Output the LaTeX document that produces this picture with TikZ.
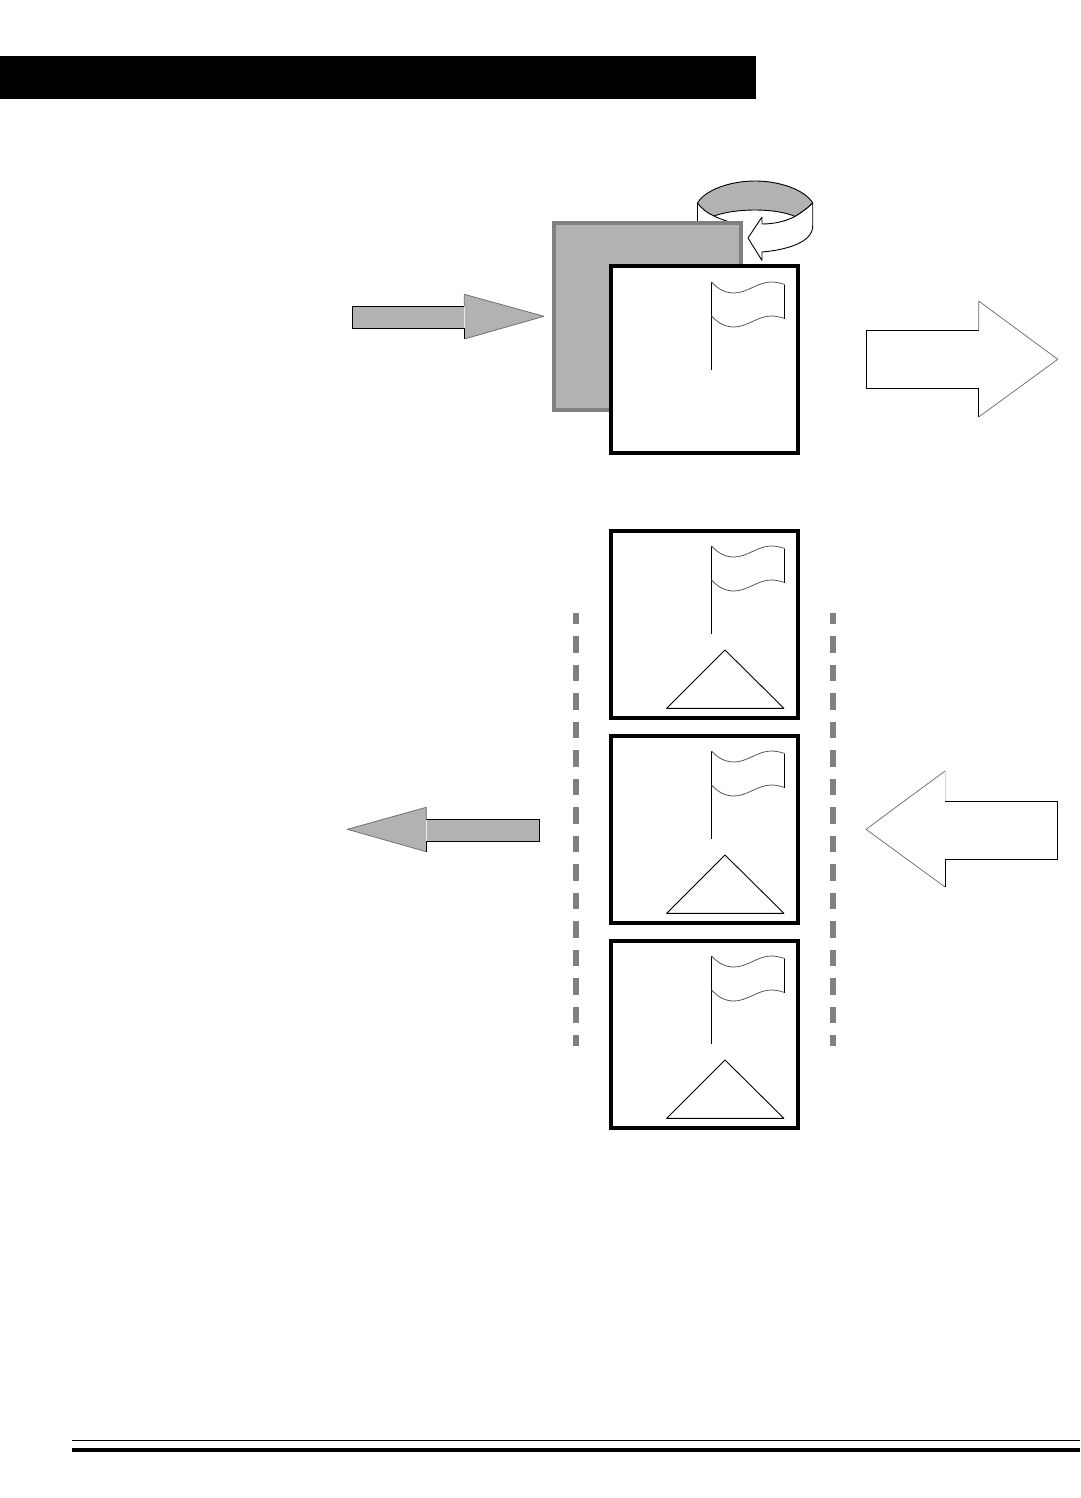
\documentclass[tikz,border=0pt]{standalone}
\definecolor{fillgray}{HTML}{B2B2B2}
\definecolor{edgegray}{HTML}{808080}
\tikzset{
  frame/.style={draw=black,line width=4pt,fill=white,miter limit=10},
  blackedge/.style={draw=black,line width=0.9pt,line join=miter},
  greyedge/.style={draw=black!60,line width=0.7pt,line join=bevel},
  wave/.style={draw=black!65,line width=0.8pt},
  pole/.style={draw=black,line width=1pt},
  railstyle/.style={draw=edgegray,line width=6pt,dash pattern=on 16.5pt off 12pt,dash phase=5.5pt},
}
\newcommand{\flagat}[1]{%
  \begin{scope}[shift={(0,#1)}]
    \draw[pole] (711.5,282) -- (711.5,370);
    \draw[line width=1.3pt] (711.7,282) -- (711.7,316);
    \draw[wave] (711.5,282) .. controls (718,289) and (725,293) .. (734,293) .. controls (747,293) and (758,282) .. (771,282) .. controls (776,282) and (780,283) .. (784.7,284.5);
    \draw[wave] (711.5,316) .. controls (718,323) and (725,327) .. (734,327) .. controls (747,327) and (758,316) .. (771,316) .. controls (776,316) and (780,317) .. (784.7,318.5);
    \draw[line width=0.9pt] (784.7,284.5) -- (784.7,318.5);
  \end{scope}}
\newcommand{\trianglebox}[1]{%
  \draw[frame] (611,#1) rectangle (798,#1+187);
  \flagat{#1-267}
  \draw[blackedge,line join=bevel] (725,#1+119) -- (784,#1+177.4) -- (666.5,#1+177.4) -- cycle;}
\begin{document}
\begin{tikzpicture}[x=1pt,y=-1pt]
\useasboundingbox (0,0) rectangle (1080,1498);
% header bar and foot rules
\fill[black] (0,56) rectangle (756,99);
\fill[black] (72,1440) rectangle (1080,1441.2);
\fill[black] (72,1448) rectangle (1080,1452);
% rotating ring
\draw[line width=0.9pt] (697.5,203) -- (697.5,226);
\draw[line width=0.9pt] (714,216) .. controls (720,219) and (726,221) .. (733,223);
\draw[fill=fillgray,line width=0.9pt,line join=round] (697.5,203) .. controls (705,190) and (730,181) .. (755,181) .. controls (780,181) and (805,190) .. (812.7,203) .. controls (808,208) and (802,212) .. (795,216.5) .. controls (785,212) and (770,210) .. (755,210) .. controls (740,210) and (725,212) .. (714,216) .. controls (707,213) and (701,208) .. (697.5,203) -- cycle;
\draw[line width=0.9pt,fill=white,line join=bevel] (762,224) .. controls (775,224) and (786,221) .. (795,216.5) .. controls (802,212) and (808,208) .. (812.7,203) -- (812.7,226) .. controls (812.7,243) and (785,250) .. (762,252) -- (762,260.5) -- (748,238) -- (762,217) -- cycle;
% gray square and first frame
\draw[draw=edgegray,line width=4pt,fill=fillgray] (554,223) rectangle (741,410);
\draw[frame] (611,266) rectangle (798,453);
\flagat{0}
% stacked frames
\trianglebox{531}
\trianglebox{736}
\trianglebox{941}
% rails
\draw[railstyle] (576,613) -- (576,1046);
\draw[railstyle] (833,613) -- (833,1046);
% gray arrows
\fill[fillgray] (352.3,306.3) -- (464.3,306.3) -- (464.3,294.3) -- (544,316.3) -- (464.3,339) -- (464.3,328.3) -- (352.3,328.3) -- cycle;
\draw[blackedge] (464.3,306.3) -- (352.3,306.3) -- (352.3,328.3) -- (464.3,328.3) -- (464.3,339);
\draw[greyedge] (464.3,306.3) -- (464.3,294.3) -- (544,316.3) -- (464.3,339);
\draw[white!70!fillgray,line width=0.6pt] (464.3,306.8) -- (464.3,327.8);
\fill[fillgray] (539.3,819.3) -- (426.3,819.3) -- (426.3,807.3) -- (347.3,829.3) -- (426.3,851.7) -- (426.3,841.3) -- (539.3,841.3) -- cycle;
\draw[blackedge] (426.3,819.3) -- (539.3,819.3) -- (539.3,841.3) -- (426.3,841.3) -- (426.3,851.7);
\draw[greyedge] (426.3,819.3) -- (426.3,807.3) -- (347.3,829.3) -- (426.3,851.7);
\draw[white!70!fillgray,line width=0.6pt] (426.3,819.8) -- (426.3,840.8);
% white arrows
\draw[blackedge] (978.7,330.3) -- (866.3,330.3) -- (866.3,388.3) -- (978.7,388.3) -- (978.7,417);
\draw[greyedge] (978.7,330.3) -- (978.7,301) -- (1057.7,359.3) -- (978.7,417);
\draw[blackedge] (945,801.3) -- (1057.3,801.3) -- (1057.3,859.3) -- (945,859.3) -- (945,887);
\draw[greyedge] (945,887) -- (866,829.3) -- (945,771);
\draw[draw=black!15,line width=1pt] (945,771) -- (945,801.3);
\end{tikzpicture}
\end{document}
